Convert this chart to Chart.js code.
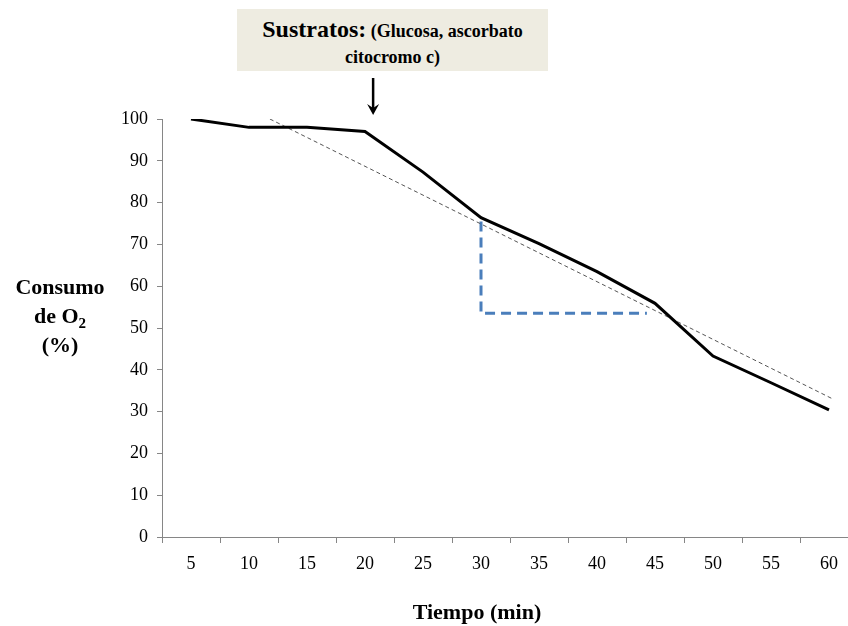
<!DOCTYPE html>
<html>
<head>
<meta charset="utf-8">
<script src="https://cdn.jsdelivr.net/npm/chart.js@4"></script>
<style>
  html, body { margin: 0; padding: 0; background: #fff; overflow: hidden; }
  #wrap { position: relative; width: 848px; height: 626px; overflow: hidden; }
  #myChart { position: absolute; left: 0; top: 0; }
  .lbl { position: absolute; font-family: "Liberation Serif", "Times New Roman", serif; font-weight: bold; color: #000; }
  #note { left: 237px; top: 9px; width: 311px; height: 62px; background: #eeece1; text-align: center; font-size: 18px; line-height: 26px; padding-top: 7px; box-sizing: border-box; }
  #note .big { font-size: 24px; }
  #ylab { left: 0; top: 272px; width: 120px; text-align: center; font-size: 22px; line-height: 29px; }
  #ylab sub { font-size: 15px; line-height: 0; }
  #xlab { left: 400px; top: 599px; width: 154px; text-align: center; font-size: 22px; }
</style>
</head>
<body>
<div id="wrap">
  <canvas id="myChart" width="870" height="626"></canvas>
  <div class="lbl" id="note"><span class="big">Sustratos:</span> (Glucosa, ascorbato<br>citocromo c)</div>
  <div class="lbl" id="ylab">Consumo<br>de O<sub>2</sub><br>(%)</div>
  <div class="lbl" id="xlab">Tiempo (min)</div>
</div>
<script>
// minutes on the x axis
const tiempo = [5, 10, 15, 20, 25, 30, 35, 40, 45, 50, 55, 60];
// O2 consumption (%)
const consumo = [100, 98, 98, 97, 87.3, 76.4, 70.2, 63.5, 55.9, 43.3, 36.9, 30.4];
// dashed trend line (start, end)
const tendenciaX = [11.8, 60.2];
const tendenciaY = [100, 33.2];
// blue right-angle guide
const guiaX = [30, 30, 44.3];
const guiaY = [75.5, 53.5, 53.5];
// y ticks
const yTicks = [0, 10, 20, 30, 40, 50, 60, 70, 80, 90, 100];
// where the substrates were added
const flechaX = 20.7;

const axisGray = '#868686';

function toPoints(xs, ys) {
  return xs.map((x, i) => ({x: x, y: ys[i]}));
}

// boundaries between categories get a tick mark, centres get the label
let xTicks = [];
tiempo.forEach((t) => {
  xTicks.push(t - 2.5);
  xTicks.push(t);
});
xTicks.push(tiempo[tiempo.length - 1] + 2.5);

const arrowPlugin = {
  id: 'arrow',
  afterDraw(chart) {
    const ctx = chart.ctx;
    const x = chart.scales.x.getPixelForValue(flechaX);
    ctx.save();
    ctx.strokeStyle = '#000';
    ctx.fillStyle = '#000';
    ctx.lineWidth = 2.5;
    ctx.beginPath();
    ctx.moveTo(x, 78);
    ctx.lineTo(x, 108);
    ctx.stroke();
    ctx.beginPath();
    ctx.moveTo(x - 6, 104);
    ctx.lineTo(x, 115);
    ctx.lineTo(x + 6, 104);
    ctx.lineTo(x, 108);
    ctx.closePath();
    ctx.fill();
    ctx.restore();
  }
};

const ctx = document.getElementById('myChart');

new Chart(ctx, {
  type: 'line',
  data: {
    datasets: [{
      data: toPoints(tiempo, consumo),
      borderColor: '#000',
      borderWidth: 3,
      pointRadius: 0,
      tension: 0
    }, {
      data: toPoints(tendenciaX, tendenciaY),
      borderColor: '#555',
      borderWidth: 1,
      borderDash: [4, 3],
      pointRadius: 0
    }, {
      data: toPoints(guiaX, guiaY),
      borderColor: '#4a7ebb',
      borderWidth: 3,
      borderDash: [10, 6],
      pointRadius: 0
    }]
  },
  options: {
    responsive: false,
    animation: false,
    layout: {
      padding: {top: 119, right: 12, left: 0, bottom: 0}
    },
    scales: {
      x: {
        type: 'linear',
        min: 2.5,
        max: 62.5,
        afterBuildTicks: (scale) => {
          scale.ticks = xTicks.map((v) => ({value: v}));
        },
        afterFit: (scale) => { scale.height = 89; },
        border: {color: axisGray, width: 1},
        grid: {
          drawOnChartArea: false,
          tickLength: 6,
          color: (c) => (c.tick && c.tick.value % 5 === 0) ? 'rgba(0,0,0,0)' : axisGray
        },
        ticks: {
          autoSkip: false,
          maxRotation: 0,
          padding: 10,
          color: '#000',
          font: {family: 'Liberation Serif', size: 18},
          callback: (v) => (v % 5 === 0) ? v : ''
        }
      },
      y: {
        min: 0,
        max: 100,
        afterBuildTicks: (scale) => {
          scale.ticks = yTicks.map((v) => ({value: v}));
        },
        afterFit: (scale) => { scale.width = 162; },
        border: {color: axisGray, width: 1},
        grid: {
          drawOnChartArea: false,
          tickLength: 5,
          color: axisGray
        },
        ticks: {
          padding: 9,
          color: '#000',
          font: {family: 'Liberation Serif', size: 18}
        }
      }
    },
    plugins: {
      legend: {display: false},
      tooltip: {enabled: false}
    }
  },
  plugins: [arrowPlugin]
});
</script>
</body>
</html>
